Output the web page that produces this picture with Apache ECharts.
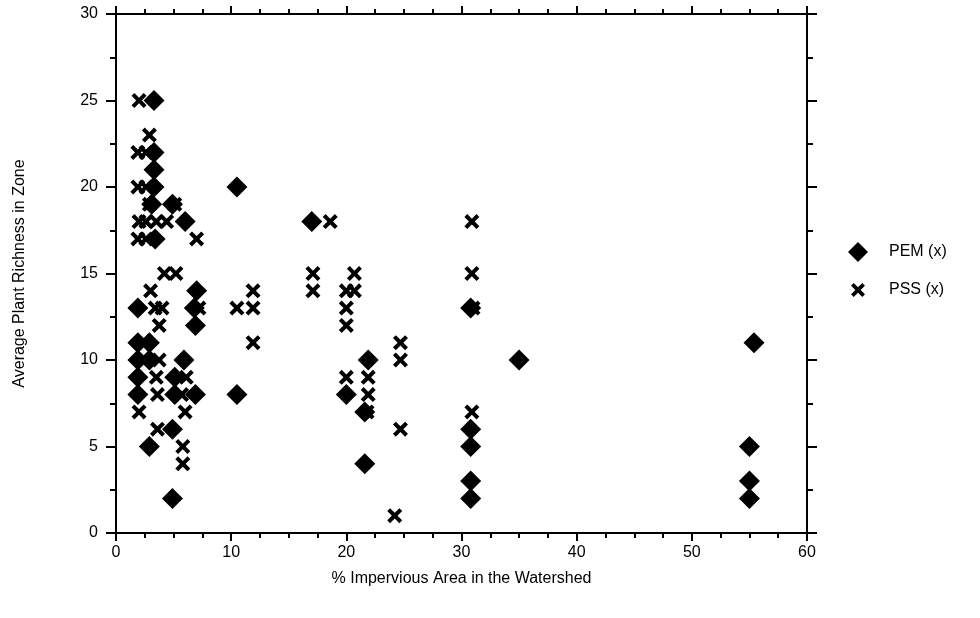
<!DOCTYPE html>
<html>
<head>
<meta charset="utf-8">
<script src="https://cdn.jsdelivr.net/npm/echarts@6/dist/echarts.min.js"></script>
<style>
  html, body { margin: 0; padding: 0; background: #fff; }
  #chart { width: 980px; height: 618px; }
</style>
</head>
<body>
<div id="chart"></div>
<script>
// PEM points (% impervious, richness)
const pemX = [3.3, 3.3, 3.3, 3.3, 3.1, 4.9, 6.0, 3.4, 10.5, 17.0, 7.0, 1.9, 6.8, 6.9, 1.9, 2.9,
  1.9, 2.9, 5.9, 1.9, 5.1, 1.9, 5.1, 6.9, 2.9, 4.9, 4.9, 10.5, 21.9, 20.0, 21.6, 21.6,
  30.8, 30.8, 30.8, 30.8, 30.8, 35.0, 55.4, 55.0, 55.0, 55.0]
const pemY = [25, 22, 21, 20, 19, 19, 18, 17, 20, 18, 14, 13, 13, 12, 11, 11,
  10, 10, 10, 9, 9, 8, 8, 8, 5, 6, 2, 8, 10, 8, 7, 4,
  13, 6, 5, 3, 2, 10, 11, 5, 3, 2]

// PSS points
const pssX = [2.0, 2.9, 1.9, 2.6, 1.9, 2.6, 2.9, 5.1, 2.0, 2.6, 3.5, 4.4, 1.9, 2.6, 7.0,
  4.2, 5.2, 3.0, 3.4, 4.0, 7.2, 3.75, 3.75, 3.5, 6.1, 3.6, 5.7, 2.0, 6.0, 3.6, 5.8, 5.8,
  11.9, 10.5, 11.9, 11.9, 18.6, 17.1, 17.1, 20.7, 20.0, 20.7, 20.0, 20.0,
  24.7, 24.7, 20.0, 21.9, 21.9, 21.8, 24.7, 24.2, 30.9, 30.9, 31.0, 30.9]
const pssY = [25, 23, 22, 22, 20, 20, 19, 19, 18, 18, 18, 18, 17, 17, 17,
  15, 15, 14, 13, 13, 13, 12, 10, 9, 9, 8, 8, 7, 7, 6, 5, 4,
  14, 13, 13, 11, 18, 15, 14, 15, 14, 14, 13, 12,
  11, 10, 9, 9, 8, 7, 6, 1, 18, 15, 13, 7]

const xTicks = [0, 10, 20, 30, 40, 50, 60]
const yTicks = [0, 5, 10, 15, 20, 25, 30]

const crossPath = 'path://M0,1.9 L1.9,0 L5,3.1 L8.1,0 L10,1.9 L6.9,5 L10,8.1 L8.1,10 L5,6.9 L1.9,10 L0,8.1 L3.1,5 Z'
// same cross with empty margin so the legend icon comes out smaller
const crossLegend = 'path://M-2.2,-2.2 M0,1.9 L1.9,0 L5,3.1 L8.1,0 L10,1.9 L6.9,5 L10,8.1 L8.1,10 L5,6.9 L1.9,10 L0,8.1 L3.1,5 Z M12.2,12.2'
const font = 'Liberation Sans, Arial, sans-serif'

const chart = echarts.init(document.getElementById('chart'))

function pairs(xs, ys) {
  return xs.map((x, i) => [x, ys[i]])
}

function xAxisCfg(pos, labels) {
  return {
    type: 'value',
    position: pos,
    min: xTicks[0],
    max: xTicks[xTicks.length - 1],
    interval: 10,
    name: labels ? '% Impervious Area in the Watershed' : '',
    nameLocation: 'middle',
    nameGap: 38,
    nameTextStyle: { color: '#000', fontSize: 16, fontFamily: font },
    axisLine: { show: true, onZero: false, lineStyle: { color: '#000', width: 2 } },
    axisTick: { show: true, inside: false, length: 8, lineStyle: { color: '#000', width: 2 } },
    minorTick: { show: true, splitNumber: 4, length: 5, lineStyle: { color: '#000', width: 2 } },
    axisLabel: { show: labels, color: '#000', fontSize: 16, fontFamily: font, margin: 12 },
    splitLine: { show: false }
  }
}

function yAxisCfg(pos, labels) {
  return {
    type: 'value',
    position: pos,
    min: yTicks[0],
    max: yTicks[yTicks.length - 1],
    interval: 5,
    name: labels ? 'Average Plant Richness in Zone' : '',
    nameLocation: 'middle',
    nameGap: 88,
    nameRotate: 90,
    nameTextStyle: { color: '#000', fontSize: 16, fontFamily: font },
    axisLine: { show: true, onZero: false, lineStyle: { color: '#000', width: 2 } },
    axisTick: { show: true, inside: false, length: 10, lineStyle: { color: '#000', width: 2 } },
    minorTick: { show: true, splitNumber: 2, length: 6, lineStyle: { color: '#000', width: 2 } },
    axisLabel: { show: labels, color: '#000', fontSize: 16, fontFamily: font, margin: 18 },
    splitLine: { show: false }
  }
}

const option = {
  animation: false,
  backgroundColor: '#fff',
  grid: { left: 116, right: 173, top: 14, bottom: 85 },
  legend: {
    orient: 'vertical',
    left: 843,
    top: 237,
    itemGap: 18,
    itemWidth: 20,
    itemHeight: 20,
    textStyle: { color: '#000', fontSize: 16, fontFamily: font, padding: [0, 0, 0, 16] },
    data: [
      { name: 'PEM (x)', icon: 'diamond' },
      { name: 'PSS (x)', icon: crossLegend }
    ]
  },
  xAxis: [xAxisCfg('bottom', true), xAxisCfg('top', false)],
  yAxis: [yAxisCfg('left', true), yAxisCfg('right', false)],
  series: [
    {
      name: 'PEM (x)',
      type: 'scatter',
      xAxisIndex: 0,
      yAxisIndex: 0,
      symbol: 'diamond',
      symbolSize: 21,
      itemStyle: { color: '#000', opacity: 1 },
      data: pairs(pemX, pemY)
    },
    {
      name: 'PSS (x)',
      type: 'scatter',
      xAxisIndex: 0,
      yAxisIndex: 0,
      symbol: crossPath,
      symbolSize: 15,
      itemStyle: { color: '#000', opacity: 1 },
      data: pairs(pssX, pssY)
    }
  ]
}

chart.setOption(option)
</script>
</body>
</html>
